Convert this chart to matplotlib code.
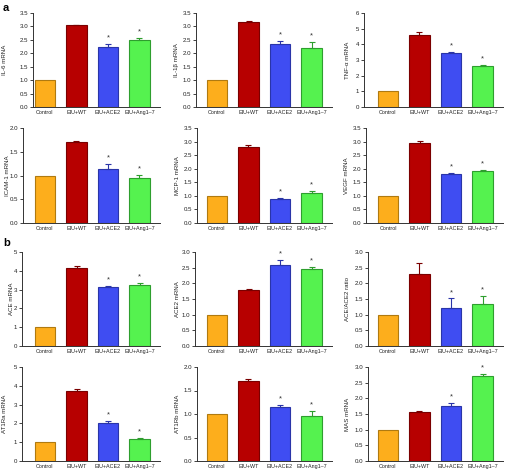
import matplotlib
matplotlib.use("Agg")
import matplotlib.pyplot as plt
from matplotlib import font_manager

W, H = 506, 471
DPI = 100

groups = ["Control", "EIU+WT", "EIU+ACE2", "EIU+Ang1\u20137"]
bar_colors = ["#FDAE1C", "#B70000", "#3F4DF2", "#55F24F"]
edge_colors = ["#B07A10", "#7A0000", "#2A35A8", "#2E9E2E"]

il6 = [1.0, 3.05, 2.25, 2.50]
il6_err = [0.0, 0.02, 0.10, 0.07]
il1b = [1.0, 3.15, 2.35, 2.21]
il1b_err = [0.0, 0.05, 0.12, 0.22]
tnfa = [1.0, 4.60, 3.45, 2.60]
tnfa_err = [0.0, 0.20, 0.07, 0.08]
icam1 = [1.0, 1.70, 1.13, 0.95]
icam1_err = [0.0, 0.02, 0.12, 0.07]
mcp1 = [1.0, 2.80, 0.87, 1.10]
mcp1_err = [0.0, 0.07, 0.05, 0.08]
vegf = [1.0, 2.93, 1.80, 1.92]
vegf_err = [0.0, 0.08, 0.04, 0.04]
ace = [1.0, 4.15, 3.12, 3.27]
ace_err = [0.0, 0.10, 0.08, 0.08]
ace2 = [1.0, 1.78, 2.60, 2.45]
ace2_err = [0.0, 0.05, 0.15, 0.07]
ratio = [1.0, 2.30, 1.20, 1.33]
ratio_err = [0.0, 0.35, 0.32, 0.28]
at1ra = [1.0, 3.70, 2.00, 1.18]
at1ra_err = [0.0, 0.15, 0.12, 0.05]
at1rb = [1.0, 1.70, 1.14, 0.96]
at1rb_err = [0.0, 0.05, 0.05, 0.10]
mas = [1.0, 1.55, 1.77, 2.70]
mas_err = [0.0, 0.03, 0.08, 0.07]

t35 = [0.0, 0.5, 1.0, 1.5, 2.0, 2.5, 3.0, 3.5]
t6 = [0, 1, 2, 3, 4, 5, 6]
t20 = [0.0, 0.5, 1.0, 1.5, 2.0]
t5 = [0, 1, 2, 3, 4, 5]
t30 = [0.0, 0.5, 1.0, 1.5, 2.0, 2.5, 3.0]

panels = [
    ("IL-6 mRNA", il6, il6_err, 3.5, t35, "%.1f", [2, 3]),
    ("IL-1\u03b2 mRNA", il1b, il1b_err, 3.5, t35, "%.1f", [2, 3]),
    ("TNF-\u03b1 mRNA", tnfa, tnfa_err, 6, t6, "%d", [2, 3]),
    ("ICAM-1 mRNA", icam1, icam1_err, 2.0, t20, "%.1f", [2, 3]),
    ("MCP-1 mRNA", mcp1, mcp1_err, 3.5, t35, "%.1f", [2, 3]),
    ("VEGF mRNA", vegf, vegf_err, 3.5, t35, "%.1f", [2, 3]),
    ("ACE mRNA", ace, ace_err, 5, t5, "%d", [2, 3]),
    ("ACE2 mRNA", ace2, ace2_err, 3.0, t30, "%.1f", [2, 3]),
    ("ACE/ACE2 ratio", ratio, ratio_err, 3.0, t30, "%.1f", [2, 3]),
    ("AT1Ra mRNA", at1ra, at1ra_err, 5, t5, "%d", [2, 3]),
    ("AT1Rb mRNA", at1rb, at1rb_err, 2.0, t20, "%.1f", [2, 3]),
    ("MAS mRNA", mas, mas_err, 3.0, t30, "%.1f", [2, 3]),
]

try:
    font_manager.findfont(font_manager.FontProperties(family="Liberation Sans Narrow"),
                          fallback_to_default=False)
    XFAM = ["Liberation Sans Narrow", "DejaVu Sans"]
    XFS = 4.4
except Exception:
    XFAM = ["Liberation Sans", "DejaVu Sans"]
    XFS = 3.9

plt.rcParams["font.family"] = ["Liberation Sans", "DejaVu Sans"]

row_tb = [(13, 107), (128, 223), (252, 346), (367, 461)]
spine_x = [[33, 196, 364], [23, 197, 366], [22, 195, 368], [22, 197, 368]]
ylab_x = [[5, 177, 348], [8, 178, 347], [12, 178, 348], [5, 178, 348]]
c0 = [45, 217, 388]
step = 31.5
right_units = 3.65

fig = plt.figure(figsize=(W / DPI, H / DPI), dpi=DPI)
fig.patch.set_facecolor("white")

YFS = 4.4
for i, (ylab, vals, errs, ymax, yt, fmt, stars) in enumerate(panels):
    r, c = divmod(i, 3)
    top, bot = row_tb[r]
    sx = spine_x[r][c]
    x0 = c0[c]
    right = x0 + right_units * step
    wpx = right - sx
    ax = fig.add_axes([sx / W, 1 - bot / H, wpx / W, (bot - top) / H])
    xs = list(range(len(groups)))
    ax.bar(xs, vals, width=0.64, color=bar_colors, edgecolor=edge_colors, linewidth=0.8, zorder=2)
    for x, v, e, ec in zip(xs, vals, errs, edge_colors):
        if e > 0:
            ax.errorbar([x], [v], yerr=[[0], [e]], fmt="none", ecolor=ec, elinewidth=0.8,
                        capsize=2.5, capthick=0.8, zorder=3)
    for s in stars:
        ax.text(s, vals[s] + errs[s] + ymax * 0.025, "*", ha="center", va="bottom",
                fontsize=5.5, color="#333333")
    ax.set_xlim(-(x0 - sx) / step, right_units)
    ax.set_ylim(0, ymax)
    ax.set_yticks(yt)
    ax.set_yticklabels([fmt % t for t in yt])
    ax.set_xticks(xs)
    ax.set_xticklabels(groups, family=XFAM, fontsize=XFS)
    ax.tick_params(axis="x", length=0, pad=2, colors="#222222")
    ax.tick_params(axis="y", length=2, width=0.6, labelsize=YFS, pad=1.5, colors="#222222")
    for sp in ["top", "right"]:
        ax.spines[sp].set_visible(False)
    for sp in ["left", "bottom"]:
        ax.spines[sp].set_linewidth(0.7)
        ax.spines[sp].set_color("#333333")
    ax.set_ylabel(ylab, fontsize=YFS, color="#222222", va="center")
    ax.yaxis.set_label_coords((ylab_x[r][c] - sx) / wpx, 0.5)

fig.text(3 / W, 1 - 8 / H, "a", fontsize=8, fontweight="bold", va="center", ha="left")
fig.text(3 / W, 1 - 243 / H, "b", fontsize=8, fontweight="bold", va="center", ha="left")

fig.savefig("out.png", dpi=DPI)
